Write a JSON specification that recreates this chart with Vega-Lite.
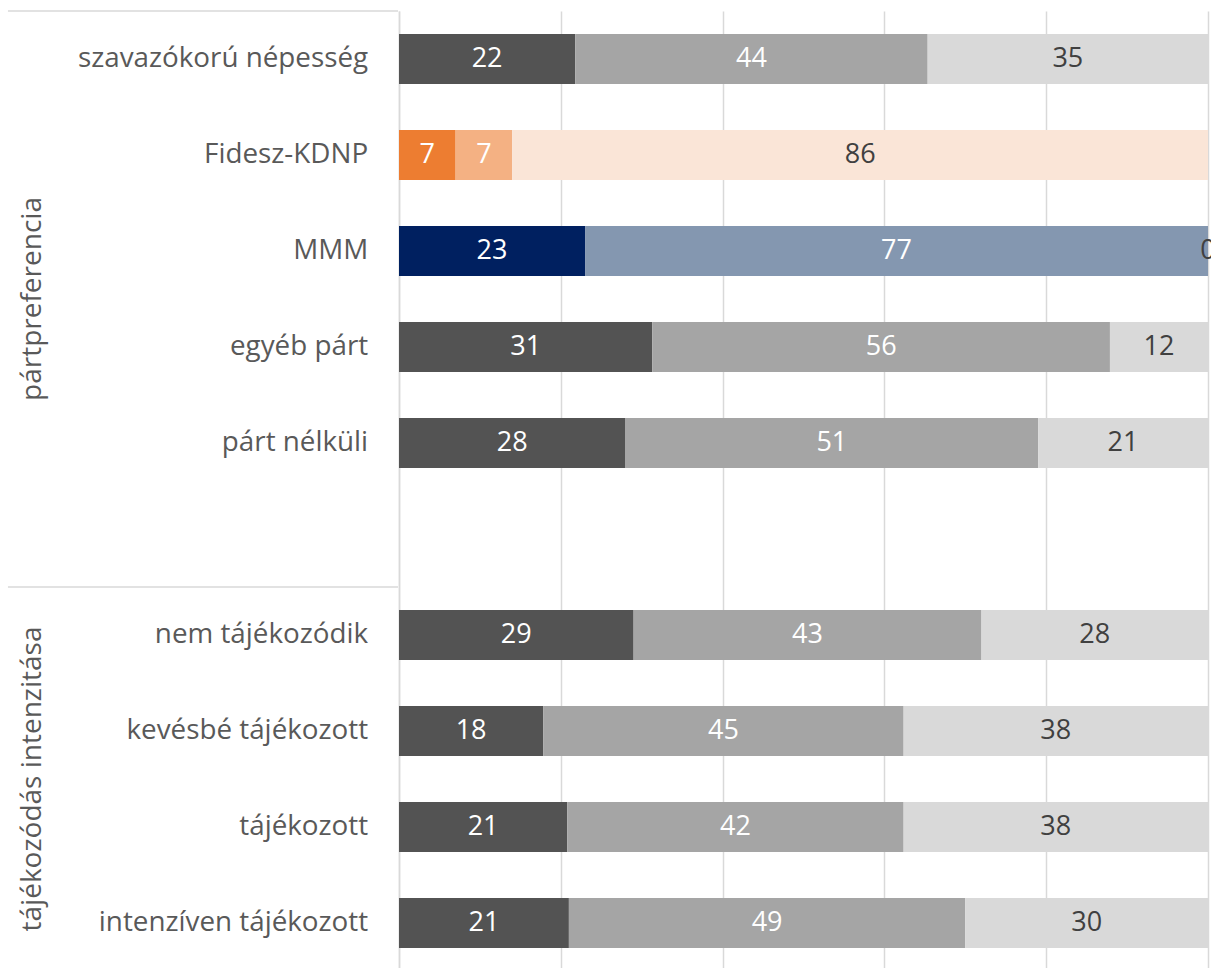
{
  "$schema": "https://vega.github.io/schema/vega-lite/v6.json",
  "padding": {"left": 0, "top": 10, "right": 0, "bottom": 0},
  "background": "white",
  "config": {"view": {"stroke": null}, "font": "Open Sans", "concat": {"spacing": 0}},
  "datasets": {
    "bars": [
      {"cat": "szavazókorú népesség", "seg": 1, "key": "gray-1", "value": 22},
      {"cat": "szavazókorú népesség", "seg": 2, "key": "gray-2", "value": 44},
      {"cat": "szavazókorú népesség", "seg": 3, "key": "gray-3", "value": 35},
      {"cat": "Fidesz-KDNP", "seg": 1, "key": "fidesz-1", "value": 7},
      {"cat": "Fidesz-KDNP", "seg": 2, "key": "fidesz-2", "value": 7},
      {"cat": "Fidesz-KDNP", "seg": 3, "key": "fidesz-3", "value": 86},
      {"cat": "MMM", "seg": 1, "key": "mmm-1", "value": 23},
      {"cat": "MMM", "seg": 2, "key": "mmm-2", "value": 77},
      {"cat": "MMM", "seg": 3, "key": "mmm-3", "value": 0},
      {"cat": "egyéb párt", "seg": 1, "key": "gray-1", "value": 31},
      {"cat": "egyéb párt", "seg": 2, "key": "gray-2", "value": 56},
      {"cat": "egyéb párt", "seg": 3, "key": "gray-3", "value": 12},
      {"cat": "párt nélküli", "seg": 1, "key": "gray-1", "value": 28},
      {"cat": "párt nélküli", "seg": 2, "key": "gray-2", "value": 51},
      {"cat": "párt nélküli", "seg": 3, "key": "gray-3", "value": 21},
      {"cat": "nem tájékozódik", "seg": 1, "key": "gray-1", "value": 29},
      {"cat": "nem tájékozódik", "seg": 2, "key": "gray-2", "value": 43},
      {"cat": "nem tájékozódik", "seg": 3, "key": "gray-3", "value": 28},
      {"cat": "kevésbé tájékozott", "seg": 1, "key": "gray-1", "value": 18},
      {"cat": "kevésbé tájékozott", "seg": 2, "key": "gray-2", "value": 45},
      {"cat": "kevésbé tájékozott", "seg": 3, "key": "gray-3", "value": 38},
      {"cat": "tájékozott", "seg": 1, "key": "gray-1", "value": 21},
      {"cat": "tájékozott", "seg": 2, "key": "gray-2", "value": 42},
      {"cat": "tájékozott", "seg": 3, "key": "gray-3", "value": 38},
      {"cat": "intenzíven tájékozott", "seg": 1, "key": "gray-1", "value": 21},
      {"cat": "intenzíven tájékozott", "seg": 2, "key": "gray-2", "value": 49},
      {"cat": "intenzíven tájékozott", "seg": 3, "key": "gray-3", "value": 30}
    ],
    "groups": [
      {"group": "pártpreferencia", "first": "szavazókorú népesség", "mid": "egyéb párt"},
      {"group": "tájékozódás intenzitása", "first": "nem tájékozódik", "mid": "tájékozott"}
    ]
  },
  "hconcat": [
    {
      "width": 398,
      "height": 960,
      "layer": [
        {
          "data": {"name": "bars"},
          "transform": [{"filter": "datum.seg === 1"}],
          "mark": {"type": "text", "align": "right", "baseline": "middle", "fontSize": 27.8, "color": "#595959"},
          "encoding": {
            "y": {"field": "cat", "type": "nominal", "axis": null,
                  "scale": {"domain": ["szavazókorú népesség", "Fidesz-KDNP", "MMM", "egyéb párt", "párt nélküli", " ", "nem tájékozódik", "kevésbé tájékozott", "tájékozott", "intenzíven tájékozott"], "paddingInner": 0, "paddingOuter": 0}},
            "x": {"datum": 92.5, "type": "quantitative", "axis": null, "scale": {"domain": [0, 100], "nice": false}},
            "text": {"field": "cat"}
          }
        },
        {
          "data": {"name": "groups"},
          "mark": {"type": "rule", "color": "#d9d9d9", "strokeWidth": 1.5},
          "encoding": {
            "y": {"field": "first", "type": "nominal", "bandPosition": 0, "axis": null},
            "x": {"datum": 2, "type": "quantitative"},
            "x2": {"datum": 100}
          }
        },
        {
          "data": {"name": "groups"},
          "mark": {"type": "text", "angle": 270, "align": "center", "baseline": "middle", "fontSize": 28, "color": "#595959"},
          "encoding": {
            "y": {"field": "mid", "type": "nominal", "bandPosition": 0, "axis": null},
            "x": {"datum": 8.2, "type": "quantitative"},
            "text": {"field": "group"}
          }
        }
      ]
    },
    {
      "width": 809,
      "height": 960,
      "data": {"name": "bars"},
      "transform": [
        {"stack": "value", "groupby": ["cat"], "sort": [{"field": "seg", "order": "ascending"}], "as": ["v0", "v1"], "offset": "normalize"},
        {"calculate": "(datum.v0 + datum.v1) / 2", "as": "mid"}
      ],
      "encoding": {
        "y": {"field": "cat", "type": "nominal",
              "scale": {"domain": ["szavazókorú népesség", "Fidesz-KDNP", "MMM", "egyéb párt", "párt nélküli", " ", "nem tájékozódik", "kevésbé tájékozott", "tájékozott", "intenzíven tájékozott"], "paddingInner": 0, "paddingOuter": 0},
              "axis": {"labels": false, "ticks": false, "domain": true, "domainColor": "#d9d9d9", "domainWidth": 1.5, "title": null, "grid": false}}
      },
      "layer": [
        {
          "mark": {"type": "bar", "height": {"band": 0.52}},
          "encoding": {
            "x": {"field": "v0", "type": "quantitative", "scale": {"domain": [0, 1], "nice": false},
                  "axis": {"values": [0, 0.2, 0.4, 0.6, 0.8, 1], "grid": true, "gridColor": "#d9d9d9", "gridWidth": 1.5, "labels": false, "ticks": false, "domain": false, "title": null}},
            "x2": {"field": "v1"},
            "color": {"field": "key", "type": "nominal", "legend": null,
                      "scale": {"domain": ["gray-1", "gray-2", "gray-3", "fidesz-1", "fidesz-2", "fidesz-3", "mmm-1", "mmm-2", "mmm-3"],
                                "range": ["#535353", "#a5a5a5", "#d9d9d9", "#ed7d31", "#f4b183", "#fae5d7", "#002060", "#8497b0", "#d6dce5"]}}
          }
        },
        {
          "mark": {"type": "text", "align": "center", "baseline": "middle", "fontSize": 27},
          "encoding": {
            "x": {"field": "mid", "type": "quantitative"},
            "text": {"field": "value", "type": "quantitative"},
            "color": {"condition": {"test": "datum.seg === 3", "value": "#404040"}, "value": "white"}
          }
        }
      ]
    }
  ]
}
